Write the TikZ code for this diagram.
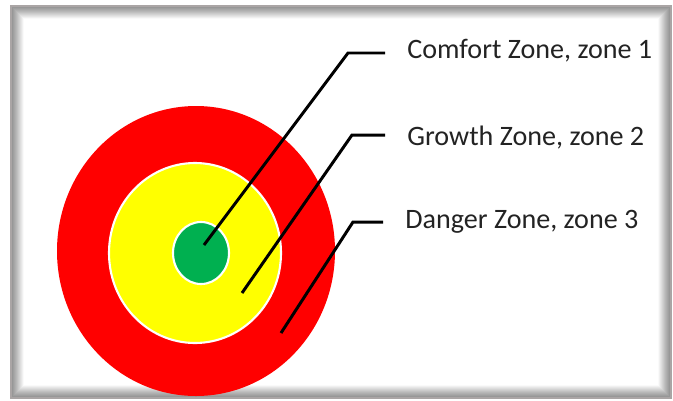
\documentclass[tikz,border=0pt]{standalone}
\usepackage{fontspec}
\setmainfont{Carlito}
\usetikzlibrary{positioning,calc}

\definecolor{zonered}{RGB}{255,0,0}
\definecolor{zoneyellow}{RGB}{255,255,0}
\definecolor{zonegreen}{RGB}{0,176,80}
\definecolor{zonetext}{RGB}{35,35,35}
\definecolor{framegray}{RGB}{170,165,165}

\begin{document}
\begin{tikzpicture}[x=0.02cm,y=-0.02cm,
  zonelabel/.style={anchor=base west,inner ysep=0pt,inner xsep=0.44cm,
    text=zonetext,font=\fontsize{16}{19}\selectfont},
  leader/.style={line width=1.7pt,black}]
  \useasboundingbox (0,0) rectangle (673,400);

  % Frame with a soft inner shadow
  \fill[white] (0,0) rectangle (673,400);
  \foreach \k [evaluate=\k as \op using 0.26-0.02*\k] in {1,...,12}
    \draw[black,opacity=\op,line width=0.6pt] (11+\k,6+\k) rectangle (671-\k,398-\k);
  \draw[framegray,line width=1pt] (11,6) rectangle (671,398);

  % Target: three zones
  \fill[zonered] (196,251) ellipse [x radius=139, y radius=145];
  \filldraw[zoneyellow,draw=white,line width=1.2pt] (195,253) ellipse [x radius=86, y radius=90];
  \filldraw[zonegreen,draw=white,line width=1.2pt] (201,253) ellipse [x radius=28, y radius=31];

  % Labels
  \node[zonelabel] (lab1) at (385,58) {Comfort Zone, zone 1};
  \node[zonelabel] (lab2) at (385,145) {Growth Zone, zone 2};
  \node[zonelabel] (lab3) at (383,228) {Danger Zone, zone 3};

  % Leader lines
  \foreach \n/\px/\py/\kx/\ky in {1/204/245/348/53, 2/242/293/352/135, 3/281/333/353/222} {
    \coordinate (p\n) at (\px,\py);
    \coordinate (k\n) at (\kx,\ky);
    \draw[leader] (p\n) -- (k\n) -- (k\n -| lab\n.west);
  }
\end{tikzpicture}
\end{document}
